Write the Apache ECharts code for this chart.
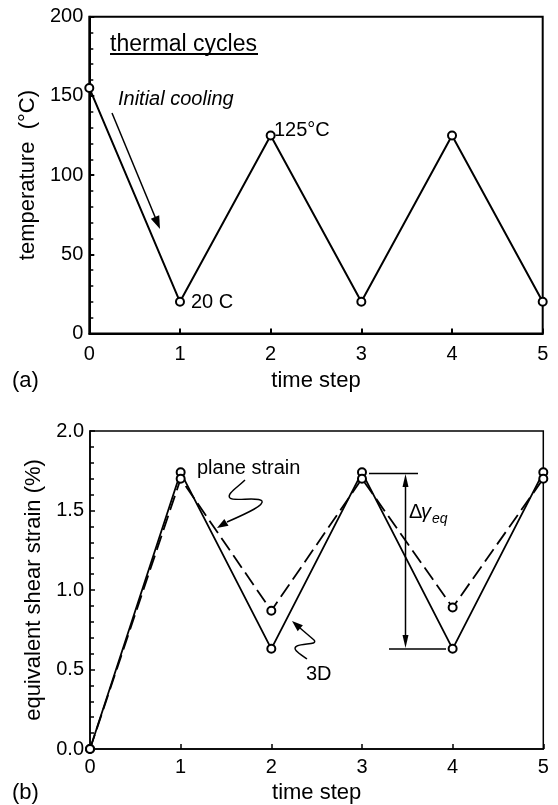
<!DOCTYPE html>
<html>
<head>
<meta charset="utf-8">
<script src="https://cdn.jsdelivr.net/npm/echarts@6/dist/echarts.min.js"></script>
<style>html,body{margin:0;padding:0;background:#fff}#c{width:558px;height:805px}</style>
</head>
<body>
<div id="c"></div>
<script>
// ---- data ----
const steps = [0, 1, 2, 3, 4, 5];
const temperature = [155, 20, 125, 20, 125, 20];
const strain3D = [0, 1.74, 0.63, 1.74, 0.63, 1.74];
const strainPlane = [0, 1.70, 0.87, 1.70, 0.89, 1.70];

const FONT = 'Liberation Sans, Arial, sans-serif';
const chart = echarts.init(document.getElementById('c'), null, {renderer: 'canvas'});

function xAxisCfg(gi, gap, margin, lw) {
  return {
    gridIndex: gi, type: 'value', min: 0, max: 5, interval: 1,
    axisLine: {show: true, lineStyle: {color: '#000', width: lw}},
    axisTick: {show: true, inside: true, length: 5, lineStyle: {color: '#000', width: lw}},
    axisLabel: {color: '#000', fontFamily: FONT, fontSize: 20, margin: margin},
    splitLine: {show: false},
    name: 'time step', nameLocation: 'middle', nameGap: gap,
    nameTextStyle: {color: '#000', fontFamily: FONT, fontSize: 22}
  };
}
function yAxisCfg(gi, min, max, interval, name, gap, fmt, lw) {
  return {
    gridIndex: gi, type: 'value', min: min, max: max, interval: interval,
    axisLine: {show: true, lineStyle: {color: '#000', width: lw}},
    axisTick: {show: true, inside: true, length: 5, lineStyle: {color: '#000', width: lw}},
    minorTick: {show: true, splitNumber: 5, length: 4, lineStyle: {color: '#000', width: 1.5}},
    axisLabel: {color: '#000', fontFamily: FONT, fontSize: 20, margin: 6, formatter: fmt},
    splitLine: {show: false},
    name: name, nameLocation: 'middle', nameGap: gap,
    nameTextStyle: {color: '#000', fontFamily: FONT, fontSize: 22}
  };
}
function lineSeries(xi, vals, dash, lw) {
  return {
    type: 'line', xAxisIndex: xi, yAxisIndex: xi,
    data: steps.map((s, i) => [s, vals[i]]),
    symbol: 'emptyCircle', symbolSize: 8, showSymbol: true, clip: false,
    lineStyle: {color: '#000', width: lw, type: dash},
    itemStyle: {color: '#000', borderWidth: 1.5},
    emphasis: {disabled: true}, animation: false, z: 3
  };
}

const txt = (x, y, s, size, italic) => ({
  type: 'text', x: x, y: y, z: 10,
  style: {text: s, fill: '#000', font: (italic ? 'italic ' : '') + size + 'px ' + FONT,
          textAlign: 'left', textVerticalAlign: 'middle'}
});
const ln = (x1, y1, x2, y2, w) => ({
  type: 'line', z: 10, shape: {x1: x1, y1: y1, x2: x2, y2: y2},
  style: {stroke: '#000', lineWidth: w}
});
const poly = (pts) => ({type: 'polygon', z: 10, shape: {points: pts}, style: {fill: '#000'}});
const bez = (x1, y1, c1x, c1y, c2x, c2y, x2, y2) => ({
  type: 'bezierCurve', z: 10,
  shape: {x1: x1, y1: y1, cpx1: c1x, cpy1: c1y, cpx2: c2x, cpy2: c2y, x2: x2, y2: y2},
  style: {stroke: '#000', fill: null, lineWidth: 1.5}
});

const graphics = [
  txt(110, 45, 'thermal cycles', 23),
  ln(110, 54, 258, 54, 2.2),
  txt(118, 99, 'Initial cooling', 20, true),
  ln(112, 113, 155.5, 218, 1.5),
  poly([[160, 229], [150.8, 218.7], [159.2, 215.3]]),
  txt(274, 130, '125\u00b0C', 20),
  txt(191, 302, '20 C', 20),
  txt(12, 381, '(a)', 22),
  txt(197, 468, 'plane strain', 20),
  bez(245, 480, 238, 487, 226, 494, 230, 498),
  bez(230, 498, 234, 502, 258, 496, 262, 501),
  bez(262, 501, 264, 505, 250, 512, 227, 522),
  poly([[217, 528], [228.5, 525.7], [224.3, 518.9]]),
  txt(306, 674, '3D', 20),
  bez(307, 659, 300, 654, 291, 649, 297, 646),
  bez(297, 646, 304, 643, 318, 645, 314, 640),
  ln(314, 640, 300, 628, 1.5),
  poly([[292, 621], [302.9, 625.2], [297.7, 631.2]]),
  ln(369, 473.5, 418, 473.5, 1.5),
  ln(389, 649, 446, 649, 1.5),
  ln(405.5, 484, 405.5, 638, 1.5),
  poly([[405.5, 474], [402.5, 487], [408.5, 487]]),
  poly([[405.5, 648], [402.5, 635], [408.5, 635]]),
  txt(409, 512, '\u0394', 20),
  txt(421, 512, '\u03b3', 20, true),
  txt(432, 519, 'eq', 14, true),
  txt(12, 793, '(b)', 22)
];

chart.setOption({
  animation: false,
  backgroundColor: '#fff',
  grid: [
    {left: 89.3, top: 16.7, width: 453.4, height: 316.8, show: true, borderColor: '#000', borderWidth: 2, backgroundColor: 'transparent'},
    {left: 90, top: 431, width: 453.3, height: 318, show: true, borderColor: '#000', borderWidth: 1.5, backgroundColor: 'transparent'}
  ],
  xAxis: [xAxisCfg(0, 36, 11, 2), xAxisCfg(1, 33, 8, 1.5)],
  yAxis: [
    yAxisCfg(0, 0, 200, 50, 'temperature  (\u00b0C)', 44, v => String(v), 2),
    yAxisCfg(1, 0, 2, 0.5, 'equivalent shear strain (%)', 44, v => v.toFixed(1), 1.5)
  ],
  series: [
    lineSeries(0, temperature, 'solid', 2),
    lineSeries(1, strain3D, 'solid', 1.8),
    lineSeries(1, strainPlane, [15, 6], 1.8)
  ],
  graphic: graphics
});
</script>
</body>
</html>
